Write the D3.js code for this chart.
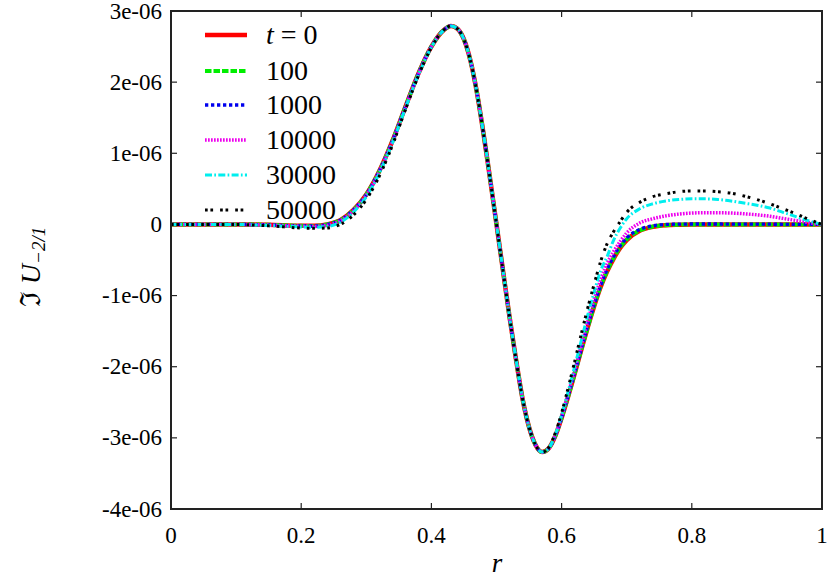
<!DOCTYPE html>
<html>
<head>
<meta charset="utf-8">
<script src="https://cdn.jsdelivr.net/npm/d3@7"></script>
<style>
  body { margin: 0; background: #fff; }
  svg { display: block; }
</style>
</head>
<body>
<svg id="chart" width="831" height="577"></svg>
<script>
// ---- data (values in units of 1e-6) ----
const r = [0, 0.05, 0.10, 0.15, 0.20, 0.22, 0.24, 0.26, 0.28, 0.30, 0.32, 0.34, 0.36, 0.38, 0.40, 0.42, 0.43, 0.44, 0.45, 0.46, 0.47, 0.48, 0.49, 0.50, 0.51, 0.52, 0.53, 0.54, 0.55, 0.56, 0.57, 0.58, 0.59, 0.60, 0.61, 0.62, 0.63, 0.64, 0.65, 0.66, 0.67, 0.68, 0.69, 0.70, 0.72, 0.74, 0.76, 0.78, 0.80, 0.82, 0.84, 0.86, 0.88, 0.90, 0.92, 0.94, 0.96, 0.98, 1.00];

const t0 = [0, 0, 0, -0.005, -0.02, -0.02, 0.0, 0.06, 0.2, 0.42, 0.75, 1.17, 1.65, 2.12, 2.5, 2.74, 2.79, 2.75, 2.6, 2.3, 1.85, 1.28, 0.65, 0.0, -0.65, -1.3, -1.9, -2.45, -2.85, -3.1, -3.2, -3.15, -2.98, -2.72, -2.42, -2.1, -1.77, -1.45, -1.15, -0.88, -0.66, -0.48, -0.33, -0.22, -0.09, -0.035, -0.012, -0.004, 0, 0, 0, 0, 0, 0, 0, 0, 0, 0, 0];

const t100 = [0, 0, 0, -0.005, -0.02, -0.021, 0.0, 0.06, 0.2, 0.42, 0.75, 1.17, 1.65, 2.12, 2.5, 2.74, 2.79, 2.75, 2.6, 2.3, 1.85, 1.28, 0.65, 0.0, -0.65, -1.3, -1.9, -2.45, -2.85, -3.1, -3.2, -3.15, -2.98, -2.72, -2.42, -2.1, -1.77, -1.45, -1.14, -0.87, -0.65, -0.47, -0.32, -0.21, -0.085, -0.03, -0.01, -0.003, 0, 0, 0, 0, 0, 0, 0, 0, 0, 0, 0];

const t1000 = [0, 0, 0, -0.006, -0.022, -0.022, -0.002, 0.058, 0.2, 0.42, 0.75, 1.17, 1.65, 2.12, 2.5, 2.74, 2.79, 2.75, 2.6, 2.3, 1.85, 1.28, 0.65, 0.0, -0.65, -1.3, -1.9, -2.45, -2.85, -3.1, -3.2, -3.15, -2.98, -2.72, -2.41, -2.09, -1.76, -1.43, -1.13, -0.86, -0.63, -0.45, -0.3, -0.19, -0.07, -0.02, 0.0, 0.004, 0.006, 0.006, 0.006, 0.005, 0.005, 0.004, 0.003, 0.002, 0.001, 0.0, 0];

const t10000 = [0, 0, 0, -0.01, -0.025, -0.028, -0.012, 0.05, 0.19, 0.41, 0.74, 1.16, 1.64, 2.11, 2.5, 2.74, 2.79, 2.75, 2.6, 2.3, 1.85, 1.28, 0.65, 0.0, -0.65, -1.3, -1.9, -2.45, -2.85, -3.1, -3.2, -3.15, -2.97, -2.7, -2.38, -2.05, -1.71, -1.37, -1.05, -0.78, -0.55, -0.38, -0.24, -0.12, 0.02, 0.08, 0.12, 0.145, 0.16, 0.165, 0.165, 0.16, 0.15, 0.135, 0.115, 0.085, 0.055, 0.025, 0];

const t30000 = [0, 0, 0, -0.015, -0.035, -0.04, -0.03, 0.03, 0.17, 0.39, 0.72, 1.14, 1.63, 2.1, 2.49, 2.74, 2.79, 2.75, 2.6, 2.3, 1.85, 1.28, 0.65, 0.0, -0.65, -1.3, -1.9, -2.45, -2.85, -3.1, -3.2, -3.15, -2.96, -2.68, -2.35, -2.0, -1.64, -1.28, -0.95, -0.65, -0.45, -0.22, -0.05, 0.08, 0.22, 0.29, 0.33, 0.35, 0.36, 0.36, 0.35, 0.33, 0.30, 0.27, 0.23, 0.17, 0.11, 0.05, 0];

const t50000 = [0, 0, 0, -0.02, -0.05, -0.055, -0.05, 0.0, 0.13, 0.35, 0.68, 1.11, 1.61, 2.09, 2.49, 2.74, 2.79, 2.75, 2.6, 2.3, 1.85, 1.28, 0.65, 0.0, -0.65, -1.3, -1.9, -2.45, -2.85, -3.1, -3.2, -3.14, -2.94, -2.65, -2.3, -1.93, -1.55, -1.18, -0.84, -0.52, -0.27, -0.1, 0.04, 0.17, 0.31, 0.39, 0.43, 0.46, 0.47, 0.47, 0.46, 0.44, 0.40, 0.35, 0.29, 0.22, 0.15, 0.07, 0];

const seriesLabels = ["t = 0", "100", "1000", "10000", "30000", "50000"];
const seriesValues = [t0, t100, t1000, t10000, t30000, t50000];
const seriesColors = ["#ff0000", "#00ee00", "#0000ee", "#ee00ee", "#00eeee", "#000000"];
const seriesDash = [null, "6.5,2", "3.3,2.7", "1.7,1.3", "7,2.3,1.7,2.3", "2.7,2.7,2.7,7"];
const seriesWidth = [4.5, 4, 3.3, 3.5, 3, 3];

const xTicks = [0, 0.2, 0.4, 0.6, 0.8, 1];
const xTickLabels = ["0", "0.2", "0.4", "0.6", "0.8", "1"];
const yTicks = [3, 2, 1, 0, -1, -2, -3, -4];
const yTickLabels = ["3e-06", "2e-06", "1e-06", "0", "-1e-06", "-2e-06", "-3e-06", "-4e-06"];

const FONT = "'Liberation Serif'";

// ---- layout ----
const svg = d3.select("#chart");
const L = 171, R = 822, T = 11, B = 509;
const x = d3.scaleLinear().domain([0, 1]).range([L, R]);
const y = d3.scaleLinear().domain([-4, 3]).range([B, T]);

// ticks (inward, mirrored)
const tl = 6;
const tickG = svg.append("g").attr("stroke", "#222").attr("stroke-width", 1.2);
xTicks.forEach(v => {
  tickG.append("line").attr("x1", x(v)).attr("x2", x(v)).attr("y1", B).attr("y2", B - tl);
  tickG.append("line").attr("x1", x(v)).attr("x2", x(v)).attr("y1", T).attr("y2", T + tl);
});
yTicks.forEach(v => {
  tickG.append("line").attr("x1", L).attr("x2", L + tl).attr("y1", y(v)).attr("y2", y(v));
  tickG.append("line").attr("x1", R).attr("x2", R - tl).attr("y1", y(v)).attr("y2", y(v));
});

// tick labels
svg.append("g").selectAll("text").data(xTicks).join("text")
  .attr("x", d => x(d)).attr("y", 543)
  .attr("text-anchor", "middle").attr("font-size", 23).style("font-family", FONT)
  .text((d, i) => xTickLabels[i]);
svg.append("g").selectAll("text").data(yTicks).join("text")
  .attr("x", 162).attr("y", d => y(d) + 7.5)
  .attr("text-anchor", "end").attr("font-size", 23).style("font-family", FONT)
  .text((d, i) => yTickLabels[i]);

// axis titles
svg.append("text").attr("x", 497).attr("y", 572).attr("text-anchor", "middle")
  .attr("font-size", 27).attr("font-style", "italic").style("font-family", FONT).text("r");
const yl = svg.append("text").attr("transform", "translate(40,267) rotate(-90)")
  .attr("text-anchor", "middle").attr("font-size", 28).style("font-family", FONT);
yl.append("tspan").text("ℑ ");
yl.append("tspan").attr("font-style", "italic").text("U");
yl.append("tspan").attr("font-size", 19).attr("font-style", "italic").attr("dy", 5).text("−2/1");

// curves
const line = d3.line().x((d, i) => x(r[i])).y(d => y(d)).curve(d3.curveMonotoneX);
const cg = svg.append("g").attr("fill", "none");
seriesValues.forEach((vals, k) => {
  cg.append("path").attr("d", line(vals))
    .attr("stroke", seriesColors[k]).attr("stroke-width", seriesWidth[k])
    .attr("stroke-dasharray", seriesDash[k]);
});

// legend
const legYs = [35, 71, 105, 140, 175, 210];
const lg = svg.append("g");
seriesLabels.forEach((lab, k) => {
  lg.append("line").attr("x1", 205).attr("x2", 247).attr("y1", legYs[k]).attr("y2", legYs[k])
    .attr("stroke", seriesColors[k]).attr("stroke-width", seriesWidth[k])
    .attr("stroke-dasharray", seriesDash[k]);
  const t = lg.append("text").attr("x", 266).attr("y", legYs[k] + 9).attr("font-size", 28)
    .style("font-family", FONT);
  if (k === 0) {
    t.append("tspan").attr("font-style", "italic").text("t");
    t.append("tspan").text(" = 0");
  } else {
    t.text(lab);
  }
});

// frame
svg.append("rect").attr("x", L).attr("y", T).attr("width", R - L).attr("height", B - T)
  .attr("fill", "none").attr("stroke", "#222").attr("stroke-width", 2);
</script>
</body>
</html>
